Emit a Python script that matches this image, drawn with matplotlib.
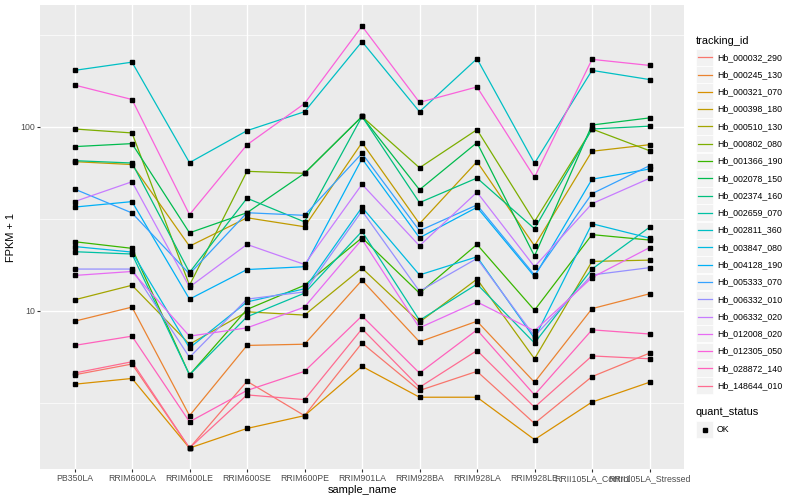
import matplotlib.pyplot as plt
import numpy as np
from matplotlib.lines import Line2D
from matplotlib.patches import Rectangle
from matplotlib.ticker import FixedLocator, NullFormatter

plt.rcParams['font.family'] = ['Liberation Sans', 'DejaVu Sans']

samples = ["PB350LA", "RRIM600LA", "RRIM600LE", "RRIM600SE", "RRIM600PE", "RRIM901LA",
           "RRIM928BA", "RRIM928LA", "RRIM928LE", "RRII105LA_Control", "RRII105LA_Stressed"]

# FPKM + 1 per sample, one list per gene
hb_000032_290 = [4.5, 5.15, 1.8, 4.15, 2.7, 6.7, 3.7, 4.7, 2.45, 4.4, 5.9]
hb_000245_130 = [8.8, 10.5, 2.7, 6.5, 6.6, 14.7, 6.8, 8.8, 4.1, 10.3, 12.4]
hb_000321_070 = [4.0, 4.3, 1.8, 2.3, 2.7, 5.0, 3.4, 3.4, 2.0, 3.2, 4.1]
hb_000398_180 = [64.8, 62.5, 22.5, 32.1, 28.7, 82.2, 29.8, 64.8, 22.6, 73.8, 80.1]
hb_000510_130 = [11.5, 13.8, 6.6, 9.9, 9.5, 17.1, 8.7, 14.9, 5.5, 18.6, 18.9]
hb_000802_080 = [97.5, 92.8, 13.8, 57.4, 56.0, 114, 60.0, 96.7, 30.6, 97.5, 74.3]
hb_001366_190 = [23.8, 21.9, 4.5, 10.2, 13.8, 25.0, 12.5, 23.0, 10.1, 26.0, 24.3]
hb_002078_150 = [78.2, 81.2, 26.6, 34.2, 56.0, 114, 45.6, 82.2, 19.9, 102.5, 112]
hb_002374_160 = [65.6, 63.7, 16.2, 41.0, 30.5, 114, 38.8, 52.8, 28.0, 97.5, 101]
hb_002659_070 = [21.0, 20.4, 4.5, 9.3, 12.5, 27.1, 8.9, 14.0, 6.7, 16.9, 28.5]
hb_002811_360 = [203, 225, 64.0, 95.5, 121, 291, 121, 235, 63.5, 203, 181]
hb_003847_080 = [22.4, 20.9, 6.3, 11.2, 13.2, 36.6, 15.7, 19.7, 7.1, 29.8, 24.9]
hb_004128_190 = [36.7, 39.3, 11.6, 16.8, 17.4, 67.2, 25.0, 36.6, 15.4, 52.0, 59.1]
hb_005333_070 = [46.0, 34.1, 15.9, 34.2, 33.1, 71.9, 27.3, 37.7, 15.7, 43.4, 61.6]
hb_006332_010 = [16.9, 16.9, 5.6, 11.6, 12.7, 35.0, 12.8, 19.3, 7.3, 15.7, 17.2]
hb_006332_020 = [39.3, 50.4, 13.5, 23.0, 17.9, 48.8, 22.6, 44.2, 17.4, 38.3, 52.6]
hb_012008_020 = [15.6, 16.4, 7.3, 8.1, 10.5, 24.5, 8.1, 11.2, 7.8, 15.2, 22.1]
hb_012305_050 = [169, 141, 33.4, 80.0, 134, 353, 136, 165, 53.3, 233, 216]
hb_028872_140 = [6.5, 7.3, 2.5, 3.7, 4.7, 9.4, 4.6, 7.9, 3.5, 7.9, 7.5]
hb_148644_010 = [4.6, 5.3, 1.8, 3.5, 3.3, 8.0, 3.85, 6.1, 3.0, 5.7, 5.5]

tracking_ids = ["Hb_000032_290", "Hb_000245_130", "Hb_000321_070", "Hb_000398_180",
                "Hb_000510_130", "Hb_000802_080", "Hb_001366_190", "Hb_002078_150",
                "Hb_002374_160", "Hb_002659_070", "Hb_002811_360", "Hb_003847_080",
                "Hb_004128_190", "Hb_005333_070", "Hb_006332_010", "Hb_006332_020",
                "Hb_012008_020", "Hb_012305_050", "Hb_028872_140", "Hb_148644_010"]
series = [hb_000032_290, hb_000245_130, hb_000321_070, hb_000398_180, hb_000510_130,
          hb_000802_080, hb_001366_190, hb_002078_150, hb_002374_160, hb_002659_070,
          hb_002811_360, hb_003847_080, hb_004128_190, hb_005333_070, hb_006332_010,
          hb_006332_020, hb_012008_020, hb_012305_050, hb_028872_140, hb_148644_010]

# ggplot hue palette, 20 levels
colors = ["#F8766D", "#EA8331", "#D89000", "#C09B00", "#A3A500", "#7CAE00", "#39B600",
          "#00BB4E", "#00BF7D", "#00C1A3", "#00BFC4", "#00BAE0", "#00B0F6", "#35A2FF",
          "#9590FF", "#C77CFF", "#E76BF3", "#FA62DB", "#FF62BC", "#FF6C91"]

fig = plt.figure(figsize=(8, 5), dpi=100)
ax = fig.add_axes([0.05, 0.062, 0.805, 0.928])
ax.set_facecolor('#EBEBEB')

x = np.arange(1, len(samples) + 1)
for vals, col in zip(series, colors):
    ax.plot(x, vals, color=col, lw=0.9, zorder=2)
for vals in series:
    ax.plot(x, vals, ls='none', marker='s', ms=2.5, color='black', zorder=3)

ax.set_yscale('log')
ax.set_ylim(1.385, 460)
ax.set_xlim(0.4, 11.6)
ax.set_xticks(x)
ax.set_xticklabels(samples)
ax.yaxis.set_major_locator(FixedLocator([10, 100]))
ax.set_yticklabels(['10', '100'])
ax.yaxis.set_minor_locator(FixedLocator([10 ** 0.5, 10 ** 1.5, 10 ** 2.5]))
ax.yaxis.set_minor_formatter(NullFormatter())
ax.tick_params(which='minor', length=0)
ax.tick_params(which='major', length=2, width=0.8, color='#333333',
               labelsize=6.3, labelcolor='#4D4D4D', pad=1.6)
ax.grid(which='major', color='white', lw=1.0)
ax.grid(which='minor', axis='y', color='white', lw=0.5)
ax.set_axisbelow(True)
for s in ax.spines.values():
    s.set_visible(False)
ax.set_xlabel('sample_name', fontsize=7.9, labelpad=1.5)
ax.set_ylabel('FPKM + 1', fontsize=7.9, labelpad=3)

# legends, placed in pixel units like ggplot's guide box
W, H = 800, 500
def fx(px):
    return px / W
def fy(py):
    return 1 - py / H

fig.text(fx(696), fy(40.7), 'tracking_id', fontsize=7.9, va='center', ha='left')
for i, (tid, col) in enumerate(zip(tracking_ids, colors)):
    yc = 57.3 + i * 17.28
    fig.add_artist(Rectangle((fx(696), fy(yc + 8.4)), 17 / W, 16.8 / H, transform=fig.transFigure,
                             facecolor='#F2F2F2', edgecolor='white', lw=0.5))
    fig.add_artist(Line2D([fx(697.5), fx(711.5)], [fy(yc)] * 2, transform=fig.transFigure,
                          color=col, lw=0.9))
    fig.text(fx(717), fy(yc), tid, fontsize=6.3, va='center', ha='left')

fig.text(fx(696), fy(412), 'quant_status', fontsize=7.9, va='center', ha='left')
yc = 429.5
fig.add_artist(Rectangle((fx(696), fy(yc + 8.4)), 17 / W, 16.8 / H, transform=fig.transFigure,
                         facecolor='#F2F2F2', edgecolor='white', lw=0.5))
fig.add_artist(Line2D([fx(704.5)], [fy(yc)], transform=fig.transFigure, ls='none',
                      marker='s', ms=2.5, color='black'))
fig.text(fx(717), fy(yc), 'OK', fontsize=6.3, va='center', ha='left')

fig.savefig('out.png', dpi=100)
